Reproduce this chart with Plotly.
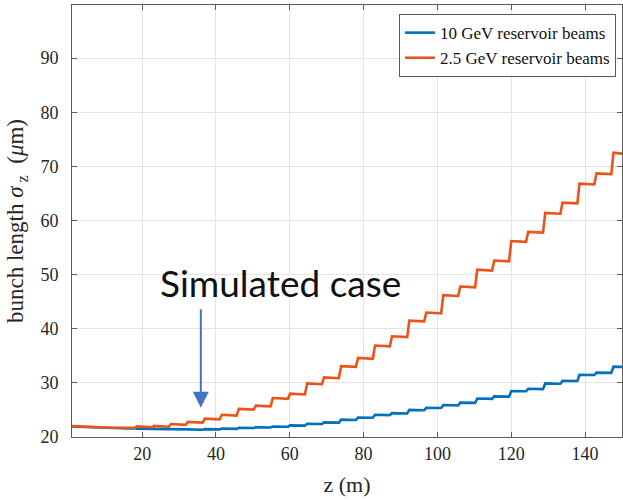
import plotly.graph_objects as go

# z positions (m) before the first bunch-length step
early_z = [1, 4, 8, 12, 16]
early_10gev = [21.95, 21.85, 21.75, 21.65, 21.58]
early_2p5gev = [22.0, 21.9, 21.8, 21.72, 21.7]

# z positions (m) where the bunch length steps up
step_z = [18.0, 22.6, 27.2, 31.8, 36.4, 41.0, 45.6, 50.2, 54.8, 59.5,
          64.1, 68.7, 73.3, 77.9, 82.5, 87.1, 91.8, 96.4, 101.0, 105.6,
          110.2, 114.8, 119.4, 124.0, 128.6, 133.3, 137.9, 142.5, 147.1]

# bunch length sigma_z (um) after each step
sigma_10gev = [21.55, 21.5, 21.45, 21.4, 21.45, 21.55, 21.7, 21.8, 21.95, 22.15,
               22.45, 22.7, 23.2, 23.6, 24.1, 24.4, 25.0, 25.4, 25.9, 26.35,
               27.1, 27.5, 28.5, 28.9, 29.9, 30.4, 31.5, 31.9, 33.0]
sigma_2p5gev = [21.95, 22.05, 22.4, 22.8, 23.4, 24.1, 25.2, 25.8, 27.2, 28.0,
                29.9, 31.0, 33.1, 34.6, 36.9, 38.6, 41.5, 43.0, 46.2, 47.8,
                50.9, 52.6, 56.2, 57.9, 61.4, 63.3, 66.8, 68.7, 72.5]

z_end = 150.0

x_tick_vals = [20, 40, 60, 80, 100, 120, 140]
y_tick_vals = [20, 30, 40, 50, 60, 70, 80, 90]


def staircase(ez, ev, sz, levels, droop, rise=0.6):
    """Vertices of a stepped curve: short ramps at each step, slight sag on the flats."""
    xs, ys = list(ez), list(ev)
    prev = ev[-1]
    for z0, lv in zip(sz, levels):
        xs += [z0, z0 + rise]
        ys += [prev, lv]
        prev = lv - droop
    xs.append(z_end)
    ys.append(prev)
    return xs, ys


BLUE = "#0072BD"
ORANGE = "#EA5418"
AXIS = "#5a5a5a"
GRID = "#e4e4e4"

bx, by = staircase(early_z, early_10gev, step_z, sigma_10gev, droop=0.05)
ox, oy = staircase(early_z, early_2p5gev, step_z, sigma_2p5gev, droop=0.15)

fig = go.Figure()
fig.add_trace(go.Scatter(x=bx, y=by, mode="lines", name="10 GeV reservoir beams",
                         line=dict(color=BLUE, width=2.6)))
fig.add_trace(go.Scatter(x=ox, y=oy, mode="lines", name="2.5 GeV reservoir beams",
                         line=dict(color=ORANGE, width=2.6)))

axis_common = dict(
    showline=True, linecolor=AXIS, linewidth=1, mirror="ticks",
    ticks="inside", ticklen=5, tickcolor=AXIS, tickwidth=1,
    showgrid=True, gridcolor=GRID, gridwidth=1, zeroline=False,
    tickfont=dict(family="Liberation Serif", size=18, color="#262626"),
)

fig.update_xaxes(range=[1, z_end], tickvals=x_tick_vals, **axis_common,
                 title=dict(text="z (m)", standoff=14,
                            font=dict(family="Liberation Serif", size=22, color="#262626")))
fig.update_yaxes(range=[20, 99.8], tickvals=y_tick_vals, **axis_common,
                 ticklabelstandoff=9,
                 title=dict(text="bunch length <i>σ</i><sub> z</sub>\u00a0\u00a0(<i>μ</i>m)", standoff=10,
                            font=dict(family="Liberation Serif", size=23, color="#262626")))

fig.add_annotation(x=57.5, y=48.6, xref="x", yref="y", text="Simulated case",
                   showarrow=False, xanchor="center", yanchor="middle",
                   font=dict(family="Lato", size=37, color="#111111"))
fig.add_annotation(x=35.9, y=25.4, xref="x", yref="y", text="",
                   showarrow=True, ax=0, ay=-100, arrowcolor="#4472C4",
                   arrowwidth=2, arrowhead=2, arrowsize=1.6, standoff=0)

fig.update_layout(
    width=623, height=500,
    margin=dict(l=72, r=1, t=5, b=63),
    plot_bgcolor="white", paper_bgcolor="white",
    font=dict(family="Liberation Serif", color="#262626"),
    legend=dict(x=0.989, y=0.979, xanchor="right", yanchor="top",
                bgcolor="white", bordercolor=AXIS, borderwidth=1,
                font=dict(family="Liberation Serif", size=17, color="#111111"),
                tracegroupgap=0),
    showlegend=True,
)

fig.write_html("out.html")
